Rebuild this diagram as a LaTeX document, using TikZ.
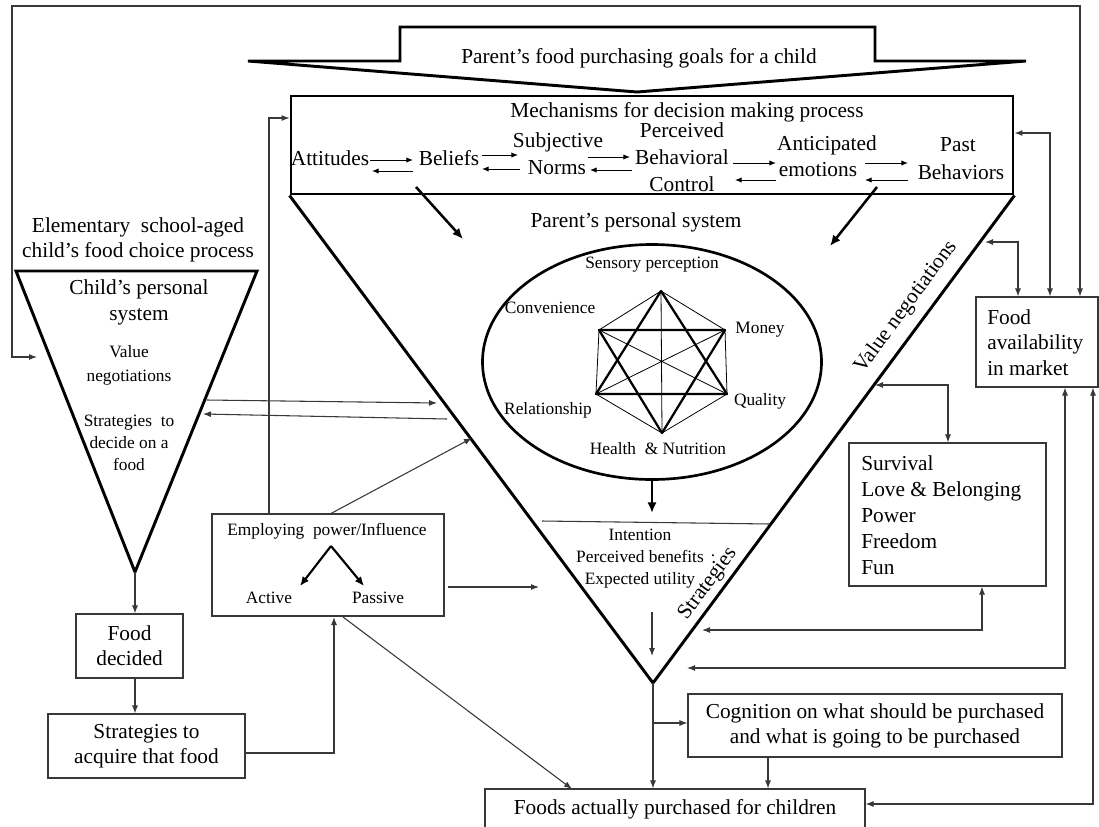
\documentclass[tikz,border=0pt]{standalone}
\usepackage{fontspec}
\setmainfont{Liberation Serif}
\usetikzlibrary{arrows.meta,calc,shapes.geometric}
\begin{document}
\begin{tikzpicture}[x=0.75pt,y=-0.75pt,
  thinln/.style={line width=0.8pt, draw=black!78},
  thickln/.style={line width=2.2pt, draw=black, line join=miter},
  arr/.style={thinln, -{Latex[length=6pt,width=4.5pt]}},
  darr/.style={thinln, {Latex[length=6pt,width=4.5pt]}-{Latex[length=6pt,width=4.5pt]}},
  tarr/.style={line width=1.9pt, -{Latex[length=8pt,width=7pt]}},
  marr/.style={line width=0.7pt, -{Latex[length=5pt,width=4pt]}},
  big/.style={font=\fontsize{16pt}{18.75pt}\selectfont, inner sep=0pt},
  small/.style={font=\fontsize{13pt}{16.5pt}\selectfont, inner sep=0pt},
  box/.style={draw=black!78, line width=0.8pt, inner sep=0pt},
]
\useasboundingbox (0,0) rectangle (1099,826);
\fill[white] (0,0) rectangle (1099,826);

% ---------- block arrow ----------
\draw[thickln] (400,27) -- (875,27) -- (875,61) -- (1026,61) -- (637,92) -- (248,61) -- (400,61) -- cycle;
\node[big] (goal) at (639,58) {Parent’s food purchasing goals for a child};

% ---------- mechanisms box ----------
\node[draw, line width=2.2pt, minimum width=541.5pt, minimum height=73.5pt, inner sep=0pt] (mech) at (652,145) {};
\node[big] (mechT) at (687,112) {Mechanisms\ for decision making process};
\node[big] (att) at (330,158) {Attitudes};
\node[big] (bel) at (449,158) {Beliefs};
\node[big] (subj) at (558,142) {Subjective};
\node[big] (norms) at (557,168) {Norms};
\node[big] (perc) at (682,130) {Perceived};
\node[big] (behav) at (682,157) {Behavioral};
\node[big] (ctrl) at (682,184) {Control};
\node[big] (antic) at (827,145) {Anticipated};
\node[big] (emot) at (818,170) {emotions};
\node[big] (past) at (958,145) {Past};
\node[big] (pastb) at (961,172) {Behaviors};
\draw[marr] (370,160) -- (413,160);
\draw[marr] (413,171) -- (372,171);
\draw[marr] (482,155) -- (518,155);
\draw[marr] (520,169) -- (482,169);
\draw[marr] (588,157) -- (630,157);
\draw[marr] (632,170) -- (590,170);
\draw[marr] (733,163) -- (776,163);
\draw[marr] (776,180) -- (735,180);
\draw[marr] (865,163) -- (908,163);
\draw[marr] (908,180) -- (865,180);

% ---------- main triangle ----------
\coordinate (mtA) at (653,683);
\draw[thickln] (mech.south west) -- (mtA) -- (mech.south east);
\node[big] (pps) at (636,222) {Parent’s personal system};
\draw[tarr] (416,187) -- (463,239);
\draw[tarr] (877,187) -- (830,246);
\node[big, rotate=53.6] (vneg) at (906,307) {Value negotiations};
\node[big, rotate=53.6] (strat) at (708,584) {Strategies};

% ellipse with hexagon
\node[draw, ellipse, line width=2pt, minimum width=254.25pt, minimum height=176.25pt, inner sep=0pt] (ell) at (652,362) {};
\coordinate (h1) at (661,291);
\coordinate (h2) at (725,330);
\coordinate (h3) at (727,394);
\coordinate (h4) at (662,433);
\coordinate (h5) at (596,394);
\coordinate (h6) at (599,330);
\draw[line width=0.6pt] (h1) -- (h2) -- (h3) -- (h4) -- (h5) -- (h6) -- cycle;
\draw[line width=0.6pt] (h1) -- (h4) (h2) -- (h5) (h3) -- (h6);
\draw[line width=1.7pt, line join=round] (h1) -- (h3) -- (h5) -- cycle;
\draw[line width=1.7pt, line join=round] (h4) -- (h6) -- (h2) -- cycle;
\node[small] (sens) at (652,265) {Sensory perception};
\node[small] (conv) at (550,308) {Convenience};
\node[small] (money) at (760,330) {Money};
\node[small] (qual) at (760,401) {Quality};
\node[small] (rel) at (548,410) {Relationship};
\node[small] (hn) at (658,449) {Health \ \& Nutrition};

\draw[tarr] (ell.south) -- (652,513);
\draw[thinln] (542,521) -- (770,524);
\node[small, align=center] (intent) at (640,559) {Intention\\Perceived benefits\\Expected utility};
\node[small] (dot) at (713,556) {.};
\draw[arr] (652,612) -- (652,656);

% ---------- child triangle ----------
\coordinate (ctL) at (16,271);
\coordinate (ctR) at (257,271);
\coordinate (ctA) at (135,572);
\draw[thickln] (ctL) -- (ctR) -- (ctA) -- cycle;
\node[big, align=center] (elem) at (138,239.5) {Elementary\ \ school-aged\\child’s food choice process};
\node[big, align=center, font=\fontsize{16pt}{19.5pt}\selectfont] (cps) at (139,302) {Child’s personal\\system};
\node[small, align=center, font=\fontsize{13pt}{18pt}\selectfont] (cvn) at (129,365) {Value\\negotiations};
\node[small, align=center] (csd) at (129,443) {Strategies\ \ to\\decide on a\\food};

% ---------- left boxes ----------
\node[box, minimum width=80.25pt, minimum height=48pt, big, align=center] (fd) at (129.5,646) {Food\\decided};
\node[box, minimum width=147.75pt, minimum height=48pt, big, align=center] (sa) at (146.5,746) {Strategies to\\acquire that food};
\draw[arr] (ctA) -- (fd.north -| ctA);
\draw[arr] (fd.south -| ctA) -- (sa.north -| ctA);

% ---------- employing box ----------
\node[box, minimum width=174pt, minimum height=76.5pt] (emp) at (328,565) {};
\node[small] (empT) at (327,531) {Employing\ \ power/Influence};
\node[small] (act) at (269,598) {Active};
\node[small] (pas) at (378,598) {Passive};
\draw[line width=1.6pt, -{Latex[length=7pt,width=6pt]}] (331,546) -- (300,586);
\draw[line width=1.6pt, -{Latex[length=7pt,width=6pt]}] (331,546) -- (364,586);

\draw[arr] (sa.east |- 0,753) -- (334,753) -- (334,617);
\draw[arr] (269,514) -- (269,118) -- (mech.west |- 0,118);
\draw[arr] (330,514) -- (472,438);
\draw[arr] (448,587) -- (539,587);
\draw[arr] (343,617) -- (572,789);
\draw[arr] (207,400) -- (437,403);
\draw[arr] (447,419) -- (203,414);

% ---------- right side ----------
\node[box, minimum width=91.5pt, minimum height=67.5pt] (avail) at (1037,342) {};
\node[big, align=left, anchor=west, font=\fontsize{16pt}{19pt}\selectfont] (availT) at (987,342.5) {Food\\availability\\in market};
\node[box, minimum width=147.75pt, minimum height=107.25pt] (surv) at (947.5,514.5) {};
\node[big, align=left, anchor=west, font=\fontsize{16pt}{19.5pt}\selectfont] (survT) at (861,515) {Survival\\Love \& Belonging\\Power\\Freedom\\Fun};
\node[box, minimum width=280.5pt, minimum height=47.25pt, big, align=center] (cog) at (875,725.5) {Cognition on what should be purchased\\and what is going to be purchased};
\node[box, minimum width=285pt, minimum height=30pt, big] (foods) at (675,809) {Foods actually purchased for children};

\coordinate (frTL) at (12,6);
\coordinate (frTR) at (1080,6);
\draw[darr] (avail.north -| frTR) -- (frTR) -- (frTL) -- (12,357) -- (37,357);
\draw[darr] (mech.east |- 0,133) -- (1050,133) -- (avail.north -| 1050,0);
\draw[darr] (985,242) -- (1018,242) -- (avail.north -| 1018,0);
\draw[darr] (875,385) -- (948,385) -- (surv.north -| 948,0);
\draw[darr] (surv.south -| 982,0) -- (982,630) -- (702,630);
\draw[darr] (avail.south -| 1065,0) -- (1065,668) -- (687,668);
\draw[darr] (avail.south -| 1093,0) -- (1093,804) -- (foods.east |- 0,804);
\draw[arr] (mtA) -- (foods.north -| mtA);
\draw[arr] (653,723) -- (cog.west |- 0,723);
\draw[arr] (cog.south -| 768,0) -- (foods.north -| 768,0);
\end{tikzpicture}
\end{document}
